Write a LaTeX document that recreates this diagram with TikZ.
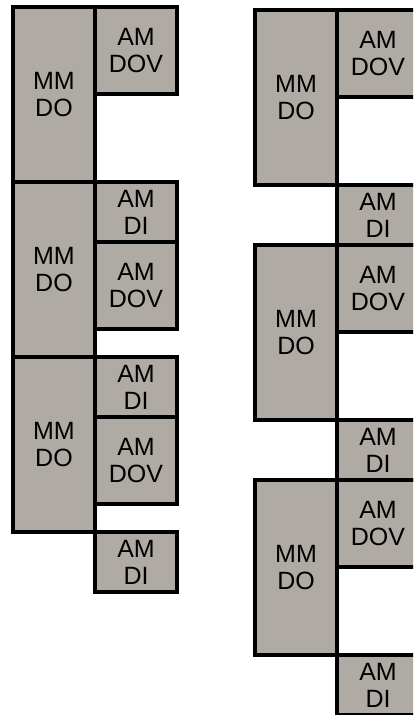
\documentclass[tikz,border=0pt]{standalone}
\usepackage{fontspec}
\setmainfont{Liberation Sans}
\usetikzlibrary{positioning}
\definecolor{boxgray}{RGB}{176,170,165}

\begin{document}
\begin{tikzpicture}[
    x=1pt, y=-1pt,
    blk/.style={rectangle, draw=black, fill=boxgray, line width=3.2pt,
        inner sep=0pt, outer sep=0pt, align=center, minimum width=82pt,
        font=\fontsize{25}{27}\selectfont},
    mmbox/.style={blk, minimum height=175pt},
    dovbox/.style={blk, minimum height=87pt},
    dibox/.style={blk, minimum height=60pt}
]
    \useasboundingbox (0,0) rectangle (413,715);
    \clip (0,0) rectangle (413,715);

    % 左列 (3个 MM DO)
    \node[mmbox, anchor=north west] (lmm1) at (13, 7) {MM\\DO};
    \node[mmbox, anchor=north west] (lmm2) at (lmm1.south west) {MM\\DO};
    \node[mmbox, anchor=north west] (lmm3) at (lmm2.south west) {MM\\DO};

    % 左列右侧的 AM 块
    \node[dovbox, anchor=north west] (ldov1) at (lmm1.north east) {AM\\DOV};
    \node[dibox, anchor=north west] (ldi1) at (lmm1.south east) {AM\\DI};
    \node[dovbox, anchor=north west] (ldov2) at (ldi1.south west) {AM\\DOV};
    \node[dibox, anchor=north west] (ldi2) at (lmm2.south east) {AM\\DI};
    \node[dovbox, anchor=north west] (ldov3) at (ldi2.south west) {AM\\DOV};
    \node[dibox, anchor=north west] (ldi3) at (lmm3.south east) {AM\\DI};

    % 右列: AM DI 在 MM DO 下方
    \node[mmbox, anchor=north west] (rmm1) at (255, 10) {MM\\DO};
    \node[dovbox, anchor=north west] (rdov1) at (rmm1.north east) {AM\\DOV};
    \node[dibox, anchor=north west] (rdi1) at (rmm1.south east) {AM\\DI};

    \node[mmbox, anchor=north east] (rmm2) at (rdi1.south west) {MM\\DO};
    \node[dovbox, anchor=north west] (rdov2) at (rdi1.south west) {AM\\DOV};
    \node[dibox, anchor=north west] (rdi2) at (rmm2.south east) {AM\\DI};

    \node[mmbox, anchor=north east] (rmm3) at (rdi2.south west) {MM\\DO};
    \node[dovbox, anchor=north west] (rdov3) at (rdi2.south west) {AM\\DOV};
    \node[dibox, anchor=north west] (rdi3) at (rmm3.south east) {AM\\DI};

\end{tikzpicture}
\end{document}
